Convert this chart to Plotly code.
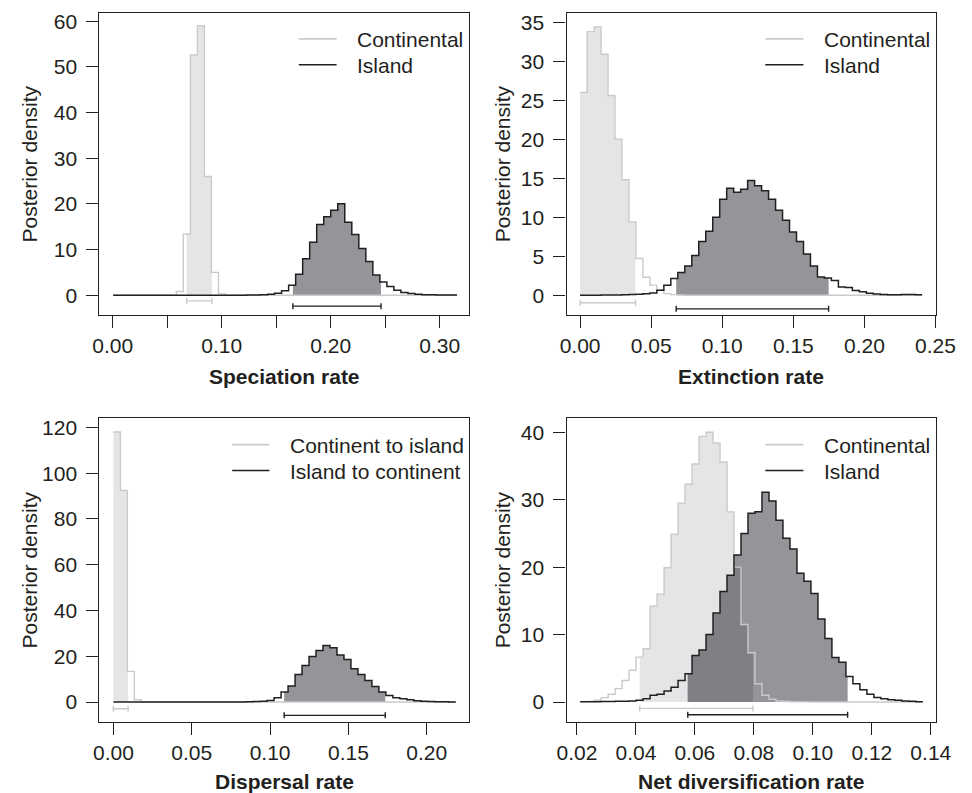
import numpy as np
import plotly.graph_objects as go

# ---------------- data (49 equal-width bins per panel) ----------------
spec_range = (0.0004, 0.316)
spec_cont = [0, 0, 0, 0, 0, 0, 0, 0, 0, 0.8, 13.4, 52.6, 59.0, 26.0, 5.0, 0.35, 0, 0, 0, 0,
             0, 0, 0, 0, 0, 0, 0, 0, 0, 0, 0, 0, 0, 0, 0, 0, 0, 0, 0, 0,
             0, 0, 0, 0, 0, 0, 0, 0, 0]
spec_isl = [0, 0, 0, 0, 0, 0, 0, 0, 0, 0, 0, 0, 0, 0, 0, 0, 0, 0, 0.01, 0.03,
            0.05, 0.1, 0.2, 0.4, 1.0, 2.2, 4.6, 8.0, 11.6, 15.5, 17.2, 18.6, 20.0, 16.0, 13.3, 10.2, 7.4, 4.4, 2.9, 1.9,
            1.1, 0.6, 0.35, 0.2, 0.12, 0.08, 0.05, 0.03, 0.02]
spec_hpd_cont = (0.0678, 0.0910)
spec_hpd_isl = (0.1653, 0.2462)

ext_range = (0.0, 0.2406)
ext_cont = [26.0, 33.8, 34.4, 30.9, 25.6, 20.0, 14.8, 9.4, 4.7, 2.3, 1.3, 0.65, 0.2, 0.08, 0.04, 0, 0, 0, 0, 0,
            0, 0, 0, 0, 0, 0, 0, 0, 0, 0, 0, 0, 0, 0, 0, 0, 0, 0, 0, 0,
            0, 0, 0, 0, 0, 0, 0, 0, 0]
ext_isl = [0, 0, 0.01, 0.02, 0.02, 0.03, 0.05, 0.08, 0.12, 0.2, 0.3, 0.64, 1.28, 2.13, 2.9, 3.74, 5.1, 6.9, 8.2, 10.0,
           12.3, 13.7, 13.2, 13.6, 14.7, 14.05, 13.4, 12.3, 10.9, 9.6, 8.1, 6.9, 5.3, 3.74, 2.34, 2.2, 1.9, 1.06, 0.98, 0.6,
           0.43, 0.26, 0.17, 0.09, 0.05, 0.06, 0.08, 0.1, 0.06]
ext_hpd_cont = (0.0, 0.039)
ext_hpd_isl = (0.0676, 0.1748)

disp_range = (0.0, 0.2185)
disp_c2i = [118.0, 92.5, 13.4, 1.0, 0.1, 0, 0, 0, 0, 0, 0, 0, 0, 0, 0, 0, 0, 0, 0, 0,
            0, 0, 0, 0, 0, 0, 0, 0, 0, 0, 0, 0, 0, 0, 0, 0, 0, 0, 0, 0,
            0, 0, 0, 0, 0, 0, 0, 0, 0]
disp_i2c = [0, 0, 0, 0, 0, 0, 0, 0, 0, 0, 0, 0, 0, 0, 0, 0, 0, 0, 0.05, 0.1,
            0.2, 0.35, 0.73, 1.9, 4.35, 7.0, 12.05, 16.0, 19.9, 22.5, 24.7, 23.7, 20.6, 18.6, 14.5, 12.05, 9.4, 6.8, 4.35, 2.9,
            1.9, 1.45, 1.0, 0.6, 0.4, 0.25, 0.15, 0.1, 0.05]
disp_hpd_c2i = (0.0, 0.0094)
disp_hpd_i2c = (0.109, 0.1735)

net_range = (0.0211, 0.1373)
net_cont = [0.03, 0.1, 0.25, 0.65, 1.14, 1.98, 3.2, 4.7, 6.65, 7.9, 14.2, 16.0, 19.9, 24.9, 29.5, 32.3, 35.3, 39.4, 40.0, 38.4,
            35.6, 28.2, 20.0, 11.5, 7.3, 2.7, 1.0, 0.4, 0.15, 0.08, 0.04, 0.02, 0.02, 0.01, 0.01, 0, 0, 0, 0, 0,
            0, 0, 0, 0, 0, 0, 0, 0, 0]
net_isl = [0.02, 0.03, 0.05, 0.06, 0.08, 0.1, 0.12, 0.15, 0.25, 0.49, 0.99, 1.14, 1.63, 2.2, 3.2, 4.2, 6.9, 7.7, 10.0, 13.2,
           16.4, 18.8, 21.8, 25.0, 28.0, 28.2, 31.1, 29.8, 26.95, 24.3, 22.7, 19.1, 17.9, 16.1, 12.3, 9.4, 6.6, 5.9, 3.8, 2.7,
           1.8, 1.14, 0.65, 0.5, 0.35, 0.25, 0.15, 0.1, 0.05]
net_hpd_cont = (0.0413, 0.0797)
net_hpd_isl = (0.0576, 0.1118)

# ---------------- styling ----------------
W, H = 972, 793
INK = "#231f20"
C_LINE = "#c9cacc"
C_FILL = "#e4e5e7"
I_FILL = "#939598"
OV_FILL = "#7f8083"
FONT = "Liberation Sans, Arial, Helvetica, sans-serif"
FS = 21

def px_x(px):
    return px / W

def px_y(py):
    return 1 - py / H

panels = [
    dict(rng=spec_range, a=spec_cont, b=spec_isl, ha=spec_hpd_cont, hb=spec_hpd_isl,
         bar=(-1.25, -2.4), box=(92.3, 474.0, 10.0, 313.3),
         xr=(-0.0122, 0.3273), yr=(-4.36, 61.8),
         xt=[0, 0.05, 0.10, 0.15, 0.20, 0.25, 0.30], xl=["0.00", "", "0.10", "", "0.20", "", "0.30"],
         yt=[0, 10, 20, 30, 40, 50, 60],
         title="Speciation rate", names=("Continental", "Island"),
         leg=(298, 337, 356, 36, 62), xtitle_y=375, ytitle_x=20),
    dict(rng=ext_range, a=ext_cont, b=ext_isl, ha=ext_hpd_cont, hb=ext_hpd_isl,
         bar=(-0.96, -1.75), box=(574.3, 955.3, 10.0, 313.3),
         xr=(-0.0095, 0.2502), yr=(-2.55, 36.19),
         xt=[0, 0.05, 0.10, 0.15, 0.20, 0.25], xl=["0.00", "0.05", "0.10", "0.15", "0.20", "0.25"],
         yt=[0, 5, 10, 15, 20, 25, 30, 35],
         title="Extinction rate", names=("Continental", "Island"),
         leg=(779.3, 818.7, 837.7, 36, 62), xtitle_y=375, ytitle_x=508),
    dict(rng=disp_range, a=disp_c2i, b=disp_i2c, ha=disp_hpd_c2i, hb=disp_hpd_i2c,
         bar=(-2.9, -5.8), box=(92.3, 474.0, 416.7, 721.7),
         xr=(-0.0089, 0.2272), yr=(-8.7, 124.05),
         xt=[0, 0.05, 0.10, 0.15, 0.20], xl=["0.00", "0.05", "0.10", "0.15", "0.20"],
         yt=[0, 20, 40, 60, 80, 100, 120],
         title="Dispersal rate", names=("Continent to island", "Island to continent"),
         leg=(229.3, 267.7, 287.3, 443.3, 469.3), xtitle_y=781.7, ytitle_x=20),
    dict(rng=net_range, a=net_cont, b=net_isl, ha=net_hpd_cont, hb=net_hpd_isl,
         bar=(-0.95, -1.9), box=(574.3, 955.3, 416.7, 721.7),
         xr=(0.0165, 0.1417), yr=(-2.96, 42.1),
         xt=[0.02, 0.04, 0.06, 0.08, 0.10, 0.12, 0.14],
         xl=["0.02", "0.04", "0.06", "0.08", "0.10", "0.12", "0.14"],
         yt=[0, 10, 20, 30, 40],
         title="Net diversification rate", names=("Continental", "Island"),
         leg=(779.3, 818.7, 837.7, 443.3, 469.3), xtitle_y=781.7, ytitle_x=508),
]


def hpd_poly(e, h, lo, hi):
    h = np.asarray(h, dtype=float)
    inner = e[(e > lo) & (e < hi)]
    xs = np.concatenate([[lo], inner, [hi]])
    idx = np.clip(np.searchsorted(e, xs[:-1], side="right") - 1, 0, len(h) - 1)
    px, py = [lo], [0.0]
    for i, k in enumerate(idx):
        px += [xs[i], xs[i + 1]]
        py += [h[k], h[k]]
    px += [hi]
    py += [0.0]
    return px, py


fig = go.Figure()
shapes = []
annotations = []

for i, p in enumerate(panels, start=1):
    xa = "x" if i == 1 else f"x{i}"
    ya = "y" if i == 1 else f"y{i}"
    a = np.asarray(p["a"], dtype=float)
    b = np.asarray(p["b"], dtype=float)
    e = np.linspace(p["rng"][0], p["rng"][1], len(a) + 1)

    # HPD fills
    fx, fy = hpd_poly(e, a, *p["ha"])
    fig.add_trace(go.Scatter(x=fx, y=fy, mode="lines", fill="toself", fillcolor=C_FILL,
                             line=dict(width=0), hoverinfo="skip", xaxis=xa, yaxis=ya))
    fx, fy = hpd_poly(e, b, *p["hb"])
    fig.add_trace(go.Scatter(x=fx, y=fy, mode="lines", fill="toself", fillcolor=I_FILL,
                             line=dict(width=0), hoverinfo="skip", xaxis=xa, yaxis=ya))
    lo = max(p["ha"][0], p["hb"][0])
    hi = min(p["ha"][1], p["hb"][1])
    if lo < hi:
        fx, fy = hpd_poly(e, np.minimum(a, b), lo, hi)
        fig.add_trace(go.Scatter(x=fx, y=fy, mode="lines", fill="toself", fillcolor=OV_FILL,
                                 line=dict(width=0), hoverinfo="skip", xaxis=xa, yaxis=ya))

    # step outlines
    fig.add_trace(go.Scatter(x=e, y=np.append(a, a[-1]), mode="lines", name=p["names"][0],
                             line=dict(color=C_LINE, width=1.4, shape="hv"), xaxis=xa, yaxis=ya))
    fig.add_trace(go.Scatter(x=e, y=np.append(b, b[-1]), mode="lines", name=p["names"][1],
                             line=dict(color=INK, width=1.5, shape="hv"), xaxis=xa, yaxis=ya))

    # HPD interval bars
    for (hlo, hhi), yb, col in ((p["ha"], p["bar"][0], C_LINE), (p["hb"], p["bar"][1], INK)):
        fig.add_trace(go.Scatter(x=[(hlo + hhi) / 2], y=[yb], mode="markers",
                                 marker=dict(size=1, color="rgba(0,0,0,0)"),
                                 error_x=dict(type="data", array=[(hhi - hlo) / 2], width=3,
                                              thickness=1.4, color=col),
                                 hoverinfo="skip", xaxis=xa, yaxis=ya))

    x0, x1, y0, y1 = p["box"]
    axis_common = dict(showline=True, mirror=True, linecolor=INK, linewidth=1.3,
                       ticks="outside", ticklen=12, tickwidth=1.3, tickcolor=INK,
                       showgrid=False, zeroline=False,
                       tickfont=dict(family=FONT, size=FS, color=INK))
    fig.update_layout(**{
        ("xaxis" if i == 1 else f"xaxis{i}"): dict(
            domain=[px_x(x0), px_x(x1)], range=list(p["xr"]), anchor=ya,
            tickmode="array", tickvals=p["xt"], ticktext=p["xl"], **axis_common),
        ("yaxis" if i == 1 else f"yaxis{i}"): dict(
            domain=[px_y(y1), px_y(y0)], range=list(p["yr"]), anchor=xa,
            tickmode="array", tickvals=p["yt"], ticktext=[str(v) for v in p["yt"]],
            ticklabelstandoff=5, **axis_common),
    })

    # axis titles
    annotations.append(dict(text=f"<b>{p['title']}</b>", x=px_x((x0 + x1) / 2), y=px_y(p["xtitle_y"]),
                            xref="paper", yref="paper", xanchor="center", yanchor="middle",
                            showarrow=False, font=dict(family=FONT, size=FS, color=INK)))
    annotations.append(dict(text="Posterior density", x=px_x(p["ytitle_x"]), y=px_y((y0 + y1) / 2),
                            xref="paper", yref="paper", xanchor="center", yanchor="middle",
                            textangle=-90, showarrow=False, font=dict(family=FONT, size=FS, color=INK)))

    # legend
    lx0, lx1, tx, ly1, ly2 = p["leg"]
    for name, col, ly in ((p["names"][0], C_LINE, ly1), (p["names"][1], INK, ly2)):
        shapes.append(dict(type="line", xref="paper", yref="paper", x0=px_x(lx0), x1=px_x(lx1),
                           y0=px_y(ly), y1=px_y(ly), line=dict(color=col, width=1.6)))
        annotations.append(dict(text=name, x=px_x(tx), y=px_y(ly + 1), xref="paper", yref="paper",
                                xanchor="left", yanchor="middle", showarrow=False,
                                font=dict(family=FONT, size=FS, color=INK)))

fig.update_layout(width=W, height=H, autosize=False, margin=dict(l=0, r=0, t=0, b=0),
                  paper_bgcolor="white", plot_bgcolor="white", showlegend=False,
                  shapes=shapes, annotations=annotations,
                  font=dict(family=FONT, size=FS, color=INK))

fig.write_html("out.html")
